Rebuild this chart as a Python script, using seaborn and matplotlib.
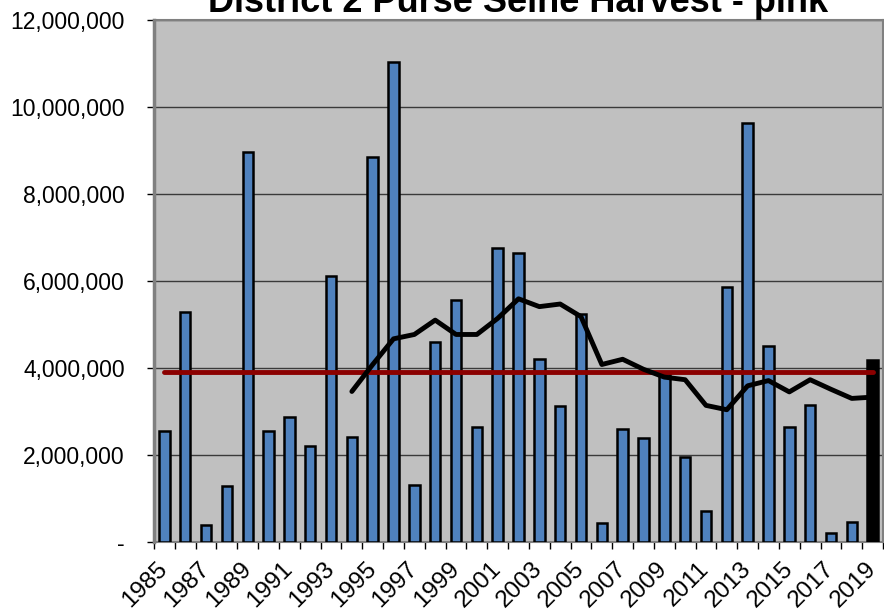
import matplotlib
matplotlib.use("Agg")
import matplotlib.pyplot as plt
import matplotlib.ticker as mticker
import seaborn as sns
import numpy as np
import pandas as pd

years = list(range(1985, 2020))
harvest = [2540000, 5280000, 385000, 1290000, 8960000, 2560000, 2870000, 2200000,
           6110000, 2420000, 8850000, 11040000, 1300000, 4600000, 5560000, 2650000,
           6760000, 6640000, 4210000, 3120000, 5250000, 430000, 2600000, 2380000,
           3850000, 1950000, 720000, 5870000, 9620000, 4500000, 2650000, 3140000,
           210000, 470000, 4180000]
long_term_avg = 3910000
# 10-year running average, starts in 1994
avg_years = list(range(1994, 2020))
running_avg = [3460000, 4080000, 4670000, 4770000, 5100000, 4770000, 4770000, 5140000,
               5590000, 5410000, 5470000, 5180000, 4080000, 4200000, 3970000, 3790000,
               3730000, 3140000, 3040000, 3590000, 3710000, 3450000, 3730000, 3510000,
               3300000, 3330000]

df = pd.DataFrame({"year": [str(y) for y in years], "harvest": harvest})
df["pos"] = range(len(df))
df_avg = pd.DataFrame({"pos": [years.index(y) for y in avg_years], "avg": running_avg})

sns.set_theme(style="white")
plt.rcParams["font.family"] = ["Liberation Sans", "DejaVu Sans"]

fig = plt.figure(figsize=(8.84, 6.14), dpi=100)
ax = fig.add_axes([0.1742, 0.1173, 0.8247, 0.8502])
ax.set_facecolor("#C0C0C0")

colors = ["#4F81BD"] * (len(years) - 1) + ["#000000"]
sns.barplot(data=df, x="year", y="harvest", hue="year", palette=colors, legend=False,
            width=0.5, edgecolor="black", linewidth=1.8, saturation=1, ax=ax, zorder=3)

sns.lineplot(x=df["pos"], y=[long_term_avg] * len(df), color="#8B0000", linewidth=3.5,
             ax=ax, zorder=4)
sns.lineplot(data=df_avg, x="pos", y="avg", color="black", linewidth=3.5, ax=ax, zorder=5)

ax.set_xlim(-0.5, len(years) - 0.5)
ax.set_ylim(0, 12000000)
ax.set_yticks(np.arange(0, 12000001, 2000000))
ax.yaxis.set_major_formatter(mticker.FuncFormatter(lambda v, p: "-" if v == 0 else f"{v:,.0f}"))
ax.yaxis.grid(True, color="#3a3a3a", linewidth=1)
ax.set_axisbelow(True)

ax.set_xticks(range(0, len(years), 2))
ax.set_xticklabels([str(y) for y in years[::2]], rotation=45, ha="right", va="center",
                   rotation_mode="anchor")
ax.set_xticks(np.arange(-0.5, len(years), 1), minor=True)
ax.tick_params(axis="x", which="major", length=0, labelsize=17.5, pad=17,
               labelcolor="black")
ax.tick_params(axis="x", which="minor", length=5, width=1, color="black", direction="out")
ax.tick_params(axis="y", length=5, width=1, color="black", direction="out", labelsize=16.5,
               pad=16, labelcolor="black")
ax.xaxis.set_ticks_position("bottom")
ax.yaxis.set_ticks_position("left")

ax.set_xlabel("")
ax.set_ylabel("")
for side in ["top", "right"]:
    ax.spines[side].set_color("#808080")
    ax.spines[side].set_linewidth(1.5)
ax.spines["left"].set_color("#808080")
ax.spines["left"].set_linewidth(2.5)
ax.spines["bottom"].set_color("#808080")
ax.spines["bottom"].set_linewidth(1.5)

ax.set_title("District 2 Purse Seine Harvest - pink", fontsize=26, fontweight="bold",
             pad=4, color="black")

fig.savefig("out.png", dpi=100)
